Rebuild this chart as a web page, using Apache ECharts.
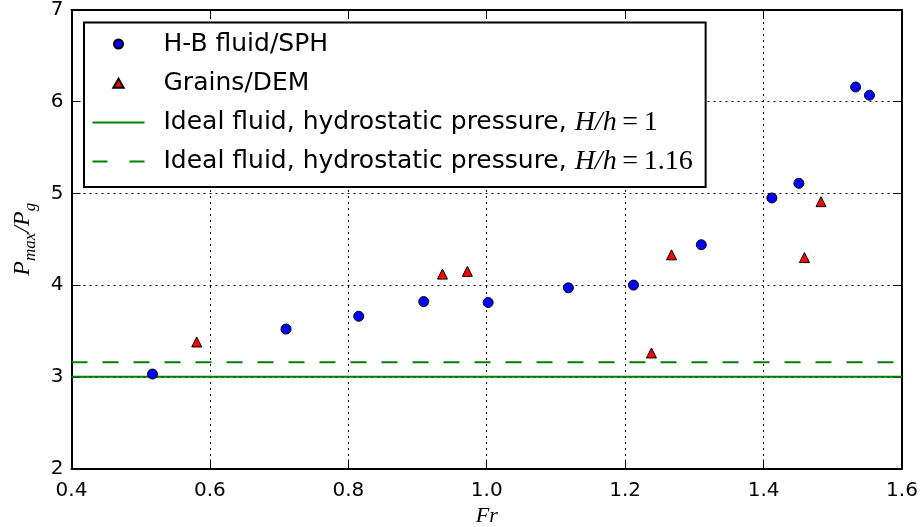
<!DOCTYPE html>
<html><head><meta charset="utf-8">
<script src="https://cdn.jsdelivr.net/npm/echarts@6/dist/echarts.min.js"></script>
<style>html,body{margin:0;padding:0;background:#fff}#c{width:922px;height:527px}</style>
</head><body><div id="c"></div>
<script>
// H-B fluid / SPH
const sphFr = [0.517, 0.710, 0.815, 0.909, 1.002, 1.118, 1.212, 1.310, 1.412, 1.451, 1.533, 1.553];
const sphP  = [3.03, 3.52, 3.66, 3.82, 3.81, 3.97, 4.00, 4.44, 4.95, 5.11, 6.16, 6.07];
// Grains / DEM
const demFr = [0.581, 0.936, 0.972, 1.238, 1.267, 1.459, 1.483];
const demP  = [3.38, 4.12, 4.15, 3.26, 4.33, 4.30, 4.91];
// Ideal fluid, hydrostatic pressure levels
const idealH1 = 3.0;
const idealH116 = 3.16;
// axes
const xMin = 0.4, xMax = 1.6, xStep = 0.2;
const yMin = 2, yMax = 7, yStep = 1;
const seriesNames = ['H-B fluid/SPH', 'Grains/DEM', 'Ideal H/h 1', 'Ideal H/h 1.16'];
const legendLabels = {
  'H-B fluid/SPH': 'H-B fluid/SPH',
  'Grains/DEM': 'Grains/DEM',
  'Ideal H/h 1': 'Ideal fluid, hydrostatic pressure, {m|H/h}{n|\u2009=\u20091}',
  'Ideal H/h 1.16': 'Ideal fluid, hydrostatic pressure, {m|H/h}{n|\u2009=\u20091.16}'
};

const chart = echarts.init(document.getElementById('c'), null, {renderer: 'canvas'});
const sans = 'DejaVu Sans';
const serif = 'Liberation Serif';
const axisLine = {show: true, lineStyle: {color: '#000', width: 2}};
const tick = {show: true, inside: true, length: 9, lineStyle: {color: '#000', width: 1}};
const grid = {show: true, lineStyle: {color: '#000', width: 1, type: [2, 4]}};

chart.setOption({
  animation: false,
  backgroundColor: '#fff',
  grid: {left: 71.5, right: 20, top: 10, bottom: 58.5, containLabel: false, outerBoundsMode: 'none'},
  xAxis: [{
    type: 'value', min: xMin, max: xMax, interval: xStep, position: 'bottom',
    axisLine: axisLine, axisTick: tick, splitLine: grid,
    axisLabel: {color: '#000', fontFamily: sans, fontSize: 20, margin: 12,
      formatter: v => v.toFixed(1)},
    name: 'Fr', nameLocation: 'middle', nameGap: 30,
    nameTextStyle: {fontFamily: serif, fontStyle: 'italic', fontSize: 22, color: '#000'}
  }, {
    type: 'value', min: xMin, max: xMax, interval: xStep, position: 'top',
    axisLine: axisLine, axisTick: tick, splitLine: {show: false}, axisLabel: {show: false}
  }],
  yAxis: [{
    type: 'value', min: yMin, max: yMax, interval: yStep, position: 'left',
    axisLine: axisLine, axisTick: tick, splitLine: grid,
    axisLabel: {color: '#000', fontFamily: sans, fontSize: 20, margin: 8},
    name: '{p|P}{s|max}{p|/P}{s|g}', nameLocation: 'middle', nameGap: 37, nameRotate: 90,
    nameTextStyle: {color: '#000', rich: {
      p: {fontFamily: serif, fontStyle: 'italic', fontSize: 24, color: '#000'},
      s: {fontFamily: serif, fontStyle: 'italic', fontSize: 17, color: '#000', verticalAlign: 'bottom', padding: [0, 0, -5, 0]}
    }}
  }, {
    type: 'value', min: yMin, max: yMax, interval: yStep, position: 'right',
    axisLine: axisLine, axisTick: tick, splitLine: {show: false}, axisLabel: {show: false}
  }],
  legend: {
    orient: 'vertical', left: 84, top: 22.5,
    data: [
      {name: seriesNames[0], icon: 'circle'},
      {name: seriesNames[1], icon: 'path://M5,0L10,8.7L0,8.7Z'},
      {name: seriesNames[2], icon: 'path://M0,0h52v2h-52z'},
      {name: seriesNames[3], icon: 'path://M0,0h15v2h-15z M37,0h15v2h-15z'}
    ],
    symbolKeepAspect: true,
    backgroundColor: '#fff', borderColor: '#000', borderWidth: 2, borderRadius: 0,
    padding: [7, 13, 11, 8.5],
    itemWidth: 52, itemHeight: 9, itemGap: 10.2,
    formatter: n => legendLabels[n],
    textStyle: {fontFamily: sans, fontSize: 25, color: '#000', lineHeight: 29, padding: [0, 0, 0, 14],
      rich: {
        m: {fontFamily: serif, fontStyle: 'italic', fontSize: 28, color: '#000', lineHeight: 29},
        n: {fontFamily: serif, fontSize: 28, color: '#000', lineHeight: 29}
      }},
    z: 20
  },
  series: [
    {
      name: seriesNames[2], type: 'line', symbol: 'none', silent: true, z: 3,
      lineStyle: {color: '#008000', width: 2, type: 'solid'},
      itemStyle: {color: '#008000'},
      data: [[xMin, idealH1], [xMax, idealH1]]
    },
    {
      name: seriesNames[3], type: 'line', symbol: 'none', silent: true, z: 3,
      lineStyle: {color: '#008000', width: 2, type: [16, 15]},
      itemStyle: {color: '#008000'},
      data: [[xMin, idealH116], [xMax, idealH116]]
    },
    {
      name: seriesNames[0], type: 'scatter', symbol: 'circle', symbolSize: 10, z: 5,
      itemStyle: {color: '#0000ff', borderColor: '#000', borderWidth: 1, opacity: 1},
      data: sphFr.map((x, i) => [x, sphP[i]])
    },
    {
      name: seriesNames[1], type: 'scatter', symbol: 'triangle', symbolSize: 10, z: 5,
      itemStyle: {color: '#ff0000', borderColor: '#000', borderWidth: 1, opacity: 1},
      data: demFr.map((x, i) => [x, demP[i]])
    }
  ]
});
</script>
</body></html>
